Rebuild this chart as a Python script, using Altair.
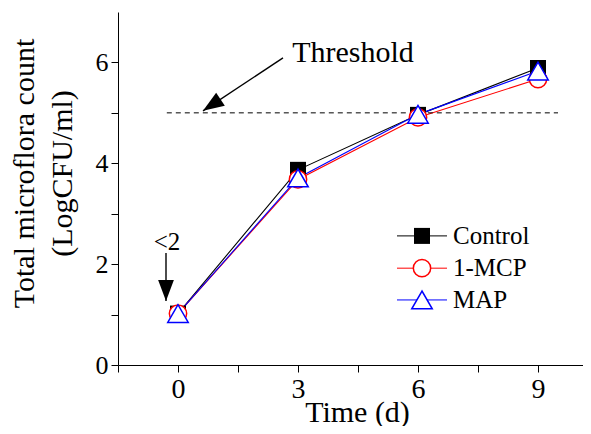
import altair as alt
import pandas as pd

# ---- data ----
days = [0, 3, 6, 9]
series_names = ["Control", "1-MCP", "MAP"]
control = [1.02, 3.87, 4.96, 5.89]
mcp = [1.02, 3.68, 4.91, 5.67]
map_ = [1.02, 3.71, 4.97, 5.83]
colors = ["black", "red", "blue"]

threshold = 5.0
threshold_x = [-0.28, 9.5]

x_ticks = [-1.5, 0, 1.5, 3, 4.5, 6, 7.5, 9]
y_ticks = [0, 1, 2, 3, 4, 5, 6]

FONT = "Liberation Serif"

rows = []
for name, vals in zip(series_names, [control, mcp, map_]):
    for d, v in zip(days, vals):
        rows.append({"series": name, "day": d, "value": v})
df = pd.DataFrame(rows)

xs = alt.Scale(domain=[-1.5, 10.125], nice=False, zero=False)
ys = alt.Scale(domain=[0, 7], nice=False, zero=False)
cscale = alt.Scale(domain=series_names, range=colors)

X = alt.X("day:Q", scale=xs, axis=alt.Axis(
    values=x_ticks, labelExpr="datum.value % 3 == 0 ? datum.label : ''",
    title="Time (d)", titleFont=FONT, titleFontSize=30, titleFontWeight="normal",
    titleColor="black", titleX=239, titleY=56, titleBaseline="alphabetic",
    labelFont=FONT, labelFontSize=28, labelColor="black", labelPadding=3,
    tickSize=7, tickColor="black", domainColor="black", grid=False,
    labelFlush=False))
Y = alt.Y("value:Q", scale=ys, axis=alt.Axis(
    values=y_ticks, labelExpr="datum.value % 2 == 0 ? datum.label : ''",
    title=["Total microflora count", "(LogCFU/ml)"], titleFont=FONT,
    titleFontSize=30, titleFontWeight="normal", titleColor="black",
    titleAngle=270, titleX=-94, titleY=161, titleBaseline="middle",
    titleAlign="center", titleLineHeight=38,
    labelFont=FONT, labelFontSize=26, labelColor="black", labelPadding=3,
    tickSize=7, tickColor="black", domainColor="black", grid=False,
    labelFlush=False))

# threshold line
thr_df = pd.DataFrame({"x": [threshold_x[0]], "x2": [threshold_x[1]], "y": [threshold]})
thr = alt.Chart(thr_df).mark_rule(color="black", strokeDash=[5, 4], strokeWidth=1).encode(
    x=alt.X("x:Q", scale=xs), x2="x2:Q", y=alt.Y("y:Q", scale=ys))

# arrows
arr_df = pd.DataFrame({
    "x": [2.625, -0.3], "y": [6.09, 2.22],
    "x2": [0.625, -0.3], "y2": [5.04, 1.27],
    "angle": [236.5, 180.0],
})
arr_shaft = alt.Chart(arr_df).mark_rule(color="black", strokeWidth=1.4).encode(
    x=alt.X("x:Q", scale=xs), y=alt.Y("y:Q", scale=ys), x2="x2:Q", y2="y2:Q")
arr_head = alt.Chart(arr_df).mark_point(
    shape="M0,0 L0.75,2 L-0.75,2 Z", filled=True, color="black", size=440, opacity=1,
    strokeWidth=0).encode(
    x=alt.X("x2:Q", scale=xs), y=alt.Y("y2:Q", scale=ys),
    angle=alt.Angle("angle:Q", scale=None))

# annotations
ann_df = pd.DataFrame({"x": [4.375, -0.275], "y": [6.19, 2.43],
                       "label": ["Threshold", "<2"], "size": [30, 25]})
ann = alt.Chart(ann_df).mark_text(font=FONT, color="black", baseline="middle",
                                  align="center").encode(
    x=alt.X("x:Q", scale=xs), y=alt.Y("y:Q", scale=ys), text="label:N",
    size=alt.Size("size:Q", scale=None))

# series lines
lines = alt.Chart(df).mark_line(strokeWidth=1.1).encode(
    x=X, y=Y, color=alt.Color("series:N", scale=cscale, legend=None),
    detail="series:N")

pt_ctrl = alt.Chart(df[df.series == "Control"]).mark_point(
    shape="square", filled=True, color="black", size=256, opacity=1).encode(
    x=alt.X("day:Q", scale=xs), y=alt.Y("value:Q", scale=ys))
pt_mcp = alt.Chart(df[df.series == "1-MCP"]).mark_point(
    shape="circle", filled=False, stroke="red", fill="white", fillOpacity=1,
    size=300, strokeWidth=1.5, opacity=1).encode(
    x=alt.X("day:Q", scale=xs), y=alt.Y("value:Q", scale=ys))
pt_map = alt.Chart(df[df.series == "MAP"]).mark_point(
    shape="triangle-up", filled=False, stroke="blue", fill="white", fillOpacity=1,
    size=420, strokeWidth=1.5, opacity=1).encode(
    x=alt.X("day:Q", scale=xs), y=alt.Y("value:Q", scale=ys))

# manual legend
leg_y = [2.56, 1.92, 1.29]
leg_x1, leg_x2, leg_xm, leg_xt = 5.475, 6.725, 6.1, 6.875
leg_df = pd.DataFrame({"series": series_names, "y": leg_y,
                       "x1": [leg_x1] * 3, "x2": [leg_x2] * 3,
                       "xm": [leg_xm] * 3, "xt": [leg_xt] * 3})
leg_line = alt.Chart(leg_df).mark_rule(strokeWidth=1).encode(
    x=alt.X("x1:Q", scale=xs), x2="x2:Q", y=alt.Y("y:Q", scale=ys),
    color=alt.Color("series:N", scale=cscale, legend=None))
leg_sq = alt.Chart(leg_df[leg_df.series == "Control"]).mark_point(
    shape="square", filled=True, color="black", size=256, opacity=1).encode(
    x=alt.X("xm:Q", scale=xs), y=alt.Y("y:Q", scale=ys))
leg_ci = alt.Chart(leg_df[leg_df.series == "1-MCP"]).mark_point(
    shape="circle", filled=False, stroke="red", fill="white", fillOpacity=1,
    size=300, strokeWidth=1.5, opacity=1).encode(
    x=alt.X("xm:Q", scale=xs), y=alt.Y("y:Q", scale=ys))
leg_tr = alt.Chart(leg_df[leg_df.series == "MAP"]).mark_point(
    shape="triangle-up", filled=False, stroke="blue", fill="white", fillOpacity=1,
    size=420, strokeWidth=1.5, opacity=1).encode(
    x=alt.X("xm:Q", scale=xs), y=alt.Y("y:Q", scale=ys))
leg_txt = alt.Chart(leg_df).mark_text(font=FONT, fontSize=25, color="black",
                                      align="left", baseline="middle").encode(
    x=alt.X("xt:Q", scale=xs), y=alt.Y("y:Q", scale=ys), text="series:N")

chart = alt.layer(
    lines, thr, arr_shaft, arr_head, ann, pt_ctrl, pt_mcp, pt_map,
    leg_line, leg_sq, leg_ci, leg_tr, leg_txt
).properties(
    width=465, height=353,
    autosize=alt.AutoSizeParams(type="none"),
    padding={"left": 110, "top": 4, "right": 0, "bottom": 61},
    background="white",
).configure_view(stroke=None)

chart.save("out.html", embed_options={"renderer": "svg", "actions": False})
